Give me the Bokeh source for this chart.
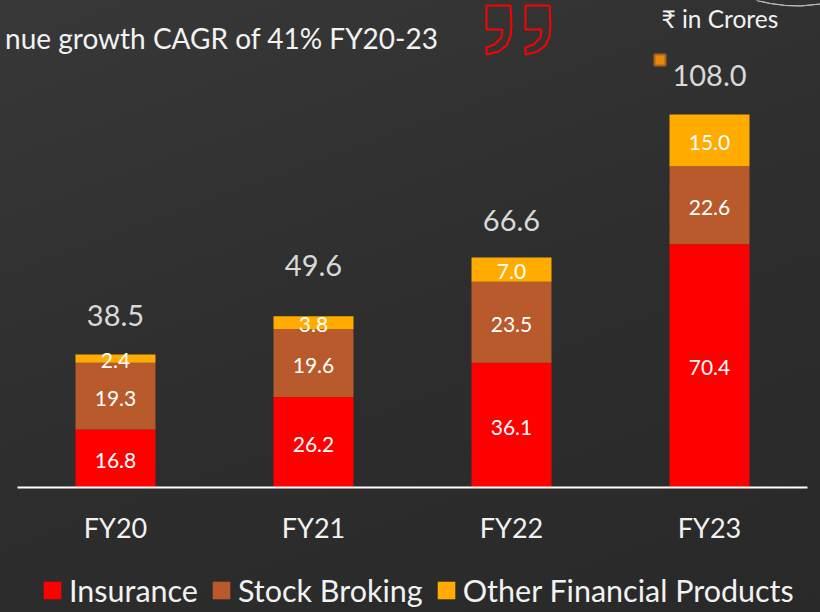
from bokeh.plotting import figure
from bokeh.embed import file_html
from bokeh.resources import INLINE
from bokeh.core.properties import value
from bokeh.models import (ColumnDataSource, FactorRange, Range1d, Legend, LegendItem,
                          PolyAnnotation, Label)

FONT = "Lato"
categories = ["FY20", "FY21", "FY22", "FY23"]
insurance = [16.8, 26.2, 36.1, 70.4]
stock_broking = [19.3, 19.6, 23.5, 22.6]
other_products = [2.4, 3.8, 7.0, 15.0]
totals = [38.5, 49.6, 66.6, 108.0]
total_labels = ["38.5", "49.6", "66.6", "108.0"]
series_names = ["Insurance", "Stock Broking", "Other Financial Products"]
heading = "nue growth CAGR of 41% FY20-23"
unit_note = "\u20b9 in Crores"

COLORS = ["#ff0000", "#b85a2b", "#ffab00"]
W, H = 820, 612
FRAME_L, FRAME_R, BASE = 4, 820, 487
PX_PER_UNIT = 3.454

# annotation screen units here are frame-relative with y up
def sx(x):
    return x - FRAME_L
def sy(y):
    return H - y

p = figure(width=W, height=H, output_backend="svg", toolbar_location=None,
           x_range=FactorRange(factors=categories, range_padding=0.0303, factor_padding=0),
           y_range=Range1d(-(H - BASE) / PX_PER_UNIT, BASE / PX_PER_UNIT),
           min_border_left=FRAME_L, min_border_right=W - FRAME_R,
           min_border_top=0, min_border_bottom=0)
p.background_fill_alpha = 0
p.border_fill_alpha = 0
p.outline_line_color = None
p.grid.visible = False
p.yaxis.visible = False
ax = p.xaxis[0]
ax.fixed_location = 0
ax.bounds = (0.005, 3.995)
ax.axis_line_color = "#ffffff"
ax.axis_line_width = 2
ax.major_tick_line_color = None
ax.minor_tick_line_color = None
ax.major_label_text_color = "#f2f2f2"
ax.major_label_text_font = FONT
ax.major_label_text_font_size = "27px"
ax.major_label_standoff = 17

lows = [[0] * 4,
        insurance,
        [i + s for i, s in zip(insurance, stock_broking)]]
renderers = []
for vals, low, col in zip([insurance, stock_broking, other_products], lows, COLORS):
    tops = [l + v for l, v in zip(low, vals)]
    d = ColumnDataSource(dict(x=categories, bottom=low, top=tops,
                              mid=[(l + t) / 2 for l, t in zip(low, tops)],
                              lab=["%.1f" % v for v in vals]))
    r = p.vbar(x="x", bottom="bottom", top="top", width=0.404, source=d,
               fill_color=col, line_color=None)
    renderers.append(r)
    p.text(x="x", y="mid", text="lab", source=d, text_color="#ffffff",
           text_font=value(FONT), text_font_size="21px", text_align="center",
           text_baseline="middle", y_offset=2)

total_src = ColumnDataSource(dict(x=categories, y=totals, t=total_labels, off=[-39, -51, -37, -39]))
p.text(x="x", y="y", text="t", source=total_src, y_offset="off", text_color="#d9d9d9",
       text_font=value(FONT), text_font_size="29px", text_align="center", text_baseline="middle")

p.add_layout(Label(x=sx(438), y=sy(37), x_units="screen", y_units="screen", text=heading,
                   text_align="right", text_color="#f2f2f2", text_font=FONT,
                   text_font_size="28px", text_baseline="alphabetic"))
p.add_layout(Label(x=sx(661), y=sy(18), x_units="screen", y_units="screen", text=unit_note,
                   text_color="#f2f2f2", text_font=FONT, text_font_size="24.5px",
                   text_baseline="alphabetic"))

legend = Legend(items=[LegendItem(label=n, renderers=[r]) for n, r in zip(series_names, renderers)],
                orientation="horizontal", location=(37, 4), background_fill_alpha=0,
                border_line_alpha=0, margin=0, padding=0, spacing=12, label_standoff=6,
                glyph_width=22, glyph_height=22, label_text_color="#f2f2f2",
                label_text_font=FONT, label_text_font_size="30.5px", label_text_baseline="middle")
p.add_layout(legend)

def poly(xs, ys, **kw):
    p.add_layout(PolyAnnotation(xs=[sx(x) for x in xs], ys=[sy(y) for y in ys],
                                xs_units="screen", ys_units="screen", line_alpha=1, **kw))

# decorative closing quote outlines, orange marker, corner arc
quote_x = [486, 510, 511, 510, 506, 498, 486, 486, 494, 501, 502, 486]
quote_y = [5, 5, 25, 36, 45, 51, 54, 47, 44, 37, 29, 29]
for dx in (0, 39):
    poly([x + dx for x in quote_x], quote_y, fill_alpha=0, line_color="#ff0000", line_width=2)
poly([654, 665, 665, 654], [54, 54, 65, 65], fill_color="#e8890f", fill_alpha=1,
     line_color="#a8641e", line_width=2)
poly([756, 770, 785, 800, 820, 800, 785, 770], [0, 3, 5, 5.5, 3.5, 5.5, 5, 3],
     fill_alpha=0, line_color="#bdbdbd", line_width=1)

html = file_html(p, INLINE)
html = html.replace("<body>", '<body style="margin:0;overflow:hidden;background:'
                    'linear-gradient(160deg,#383838 0%,#2e2e2e 50%,#292929 100%)">')
open("out.html", "w").write(html)
